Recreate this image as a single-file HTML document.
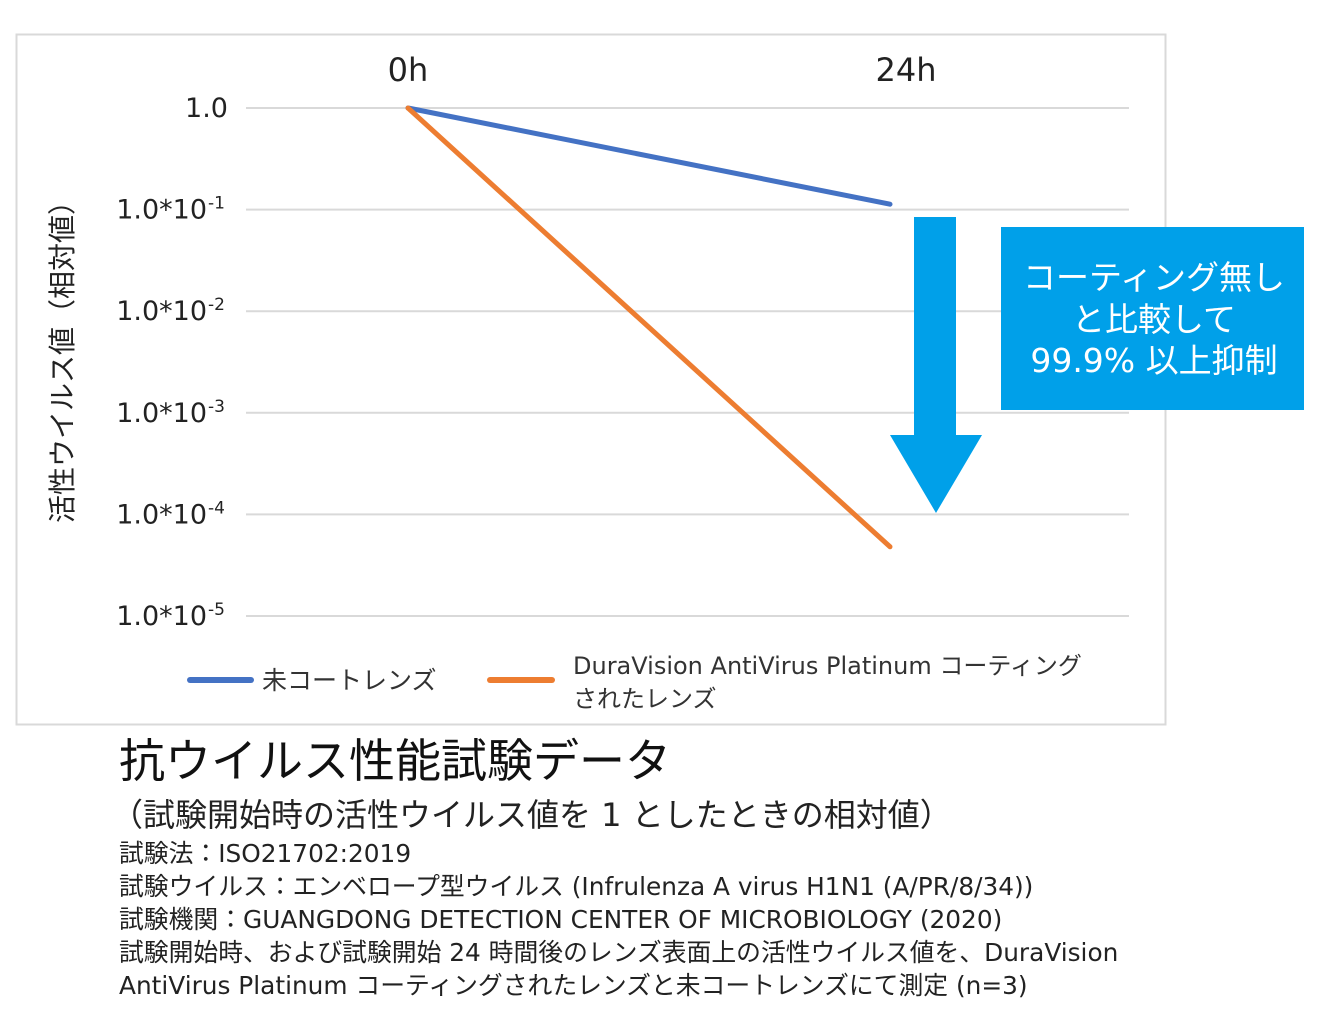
<!DOCTYPE html>
<html><head><meta charset="utf-8">
<style>
body{margin:0;background:#fff;width:1321px;height:1025px;overflow:hidden;font-family:"DejaVu Sans","Noto Sans CJK JP",sans-serif;}
svg text{font-family:"DejaVu Sans","Noto Sans CJK JP",sans-serif;}
.notes{position:absolute;left:119px;top:733px;color:#222;}
</style></head><body>
<svg id="chart" width="1321" height="730" style="position:absolute;left:0;top:0">
<rect x="16.5" y="34.5" width="1149" height="690" fill="#fff" stroke="#d9d9d9" stroke-width="2"/>
<g id="grid"></g><g id="series"></g>
<text transform="translate(72,355) rotate(-90)" text-anchor="middle" font-size="28" fill="#222">活性ウイルス値（相対値）</text>
<g>
<polygon points="914,217 956,217 956,435 982,435 936,513 890,435 914,435" fill="#00a0e9"/>
</g>
<g>
<rect x="1001" y="227" width="303" height="183" fill="#00a0e9"/>
<text x="1154" y="289" text-anchor="middle" font-size="33" fill="#fff">コーティング無し</text>
<text x="1154" y="331" text-anchor="middle" font-size="33" fill="#fff">と比較して</text>
<text x="1154" y="372" text-anchor="middle" font-size="33" fill="#fff">99.9% 以上抑制</text>
</g>
<g>
<line x1="190" y1="680" x2="251" y2="680" stroke="#4472c4" stroke-width="6" stroke-linecap="round"/>
<text x="262" y="689" font-size="25" fill="#333">未コートレンズ</text>
<line x1="490" y1="680" x2="552" y2="680" stroke="#ed7d31" stroke-width="6" stroke-linecap="round"/>
<text x="573" y="674" font-size="24" fill="#333">DuraVision AntiVirus Platinum コーティング</text>
<text x="573" y="707" font-size="24" fill="#333">されたレンズ</text>
</g>
</svg>
<div class="notes">
<div style="font-size:46px;line-height:56px;color:#111">抗ウイルス性能試験データ</div>
<div style="font-size:32px;line-height:42px;margin-left:-8px;margin-top:5px">（試験開始時の活性ウイルス値を 1 としたときの相対値）</div>
<div style="font-size:24.8px;line-height:33px;margin-top:1px">試験法：ISO21702:2019<br>試験ウイルス：エンベロープ型ウイルス (Infrulenza A virus H1N1 (A/PR/8/34))<br>試験機関：GUANGDONG DETECTION CENTER OF MICROBIOLOGY (2020)<br>試験開始時、および試験開始 24 時間後のレンズ表面上の活性ウイルス値を、DuraVision<br>AntiVirus Platinum コーティングされたレンズと未コートレンズにて測定 (n=3)</div>
</div>
<script>
const categories=["0h","24h"];
const tickExps=[0,-1,-2,-3,-4,-5];
const tickLabels=["1.0","1.0*10","1.0*10","1.0*10","1.0*10","1.0*10"];
const tickSups=["","-1","-2","-3","-4","-5"];
const uncoated=[1.0,0.113];
const coated=[1.0,0.000048];
const NS="http://www.w3.org/2000/svg";
const y=v=>108-Math.log10(v)*101.6;
const x=i=>408+i*482;
const grid=document.getElementById('grid'),ser=document.getElementById('series');
function mk(tag,attrs,parent){const e=document.createElementNS(NS,tag);for(const k in attrs)e.setAttribute(k,attrs[k]);parent.appendChild(e);return e;}
tickExps.forEach((ex,i)=>{
 const yy=y(Math.pow(10,ex));
 const l=mk('line',{x1:246,x2:1129,y1:yy,y2:yy,stroke:'#d9d9d9','stroke-width':2},grid);
 
 
 const t=mk('text',{x:i==0?228:207,y:yy+9,'text-anchor':'end','font-size':27,fill:'#222'},grid);
 
 
 t.textContent=tickLabels[i];
 if(tickSups[i]){const s=mk('text',{x:208,y:yy-1,'font-size':17,fill:'#222'},grid);s.textContent=tickSups[i];}
});
categories.forEach((c,i)=>{
 const t=mk('text',{x:x(i)+(i?16:0),y:81,'text-anchor':'middle','font-size':32,fill:'#222'},grid);
 
 
 t.textContent=c;
});
[[uncoated,'#4472c4','line-uncoated'],[coated,'#ed7d31','line-coated']].forEach(([d,col,n])=>{
 const p=mk('polyline',{points:d.map((v,i)=>x(i)+','+y(v)).join(' '),fill:'none',stroke:col,'stroke-width':5,'stroke-linecap':'round'},ser);
 
 
});
</script>
</body></html>
